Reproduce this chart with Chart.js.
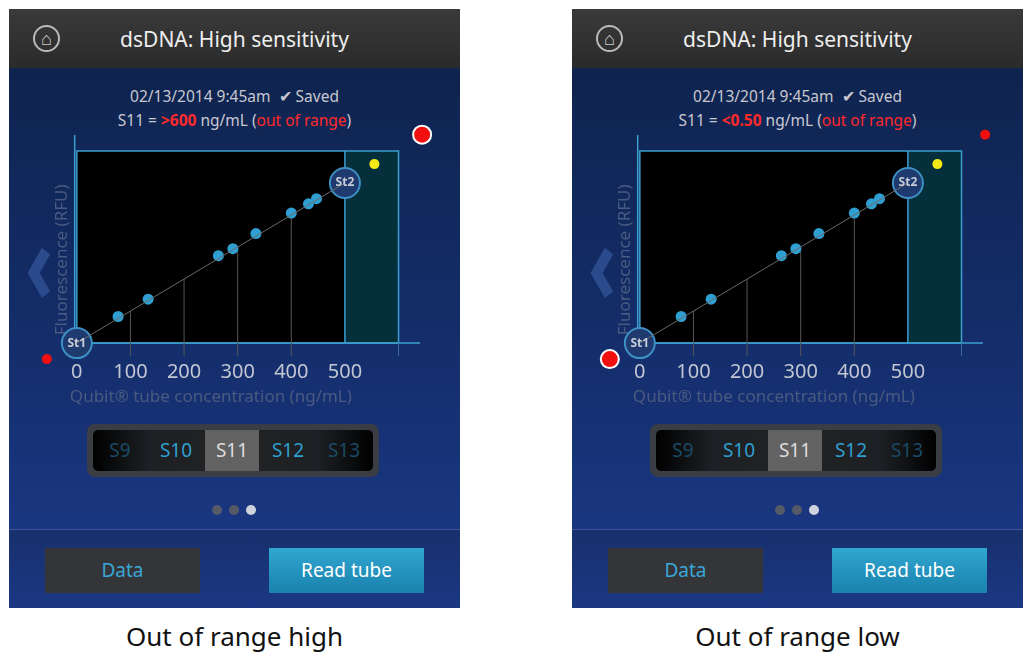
<!DOCTYPE html>
<html><head><meta charset="utf-8">
<script src="https://cdn.jsdelivr.net/npm/chart.js@4"></script>
<style>
body{margin:0;width:1034px;height:667px;background:#fff;position:relative;overflow:hidden;font-family:"Noto Sans","Open Sans",sans-serif}
.panel{position:absolute;top:9px;width:451px;height:599px;background:linear-gradient(#0d2148 0%,#152f6e 60%,#1b3a8a 100%);overflow:hidden}
.hdr{position:absolute;left:0;top:0;width:100%;height:59px;background:linear-gradient(#3a3a3a,#2a2a2a);color:#eee;font-size:21px;text-align:center;line-height:60px}
.home{position:absolute;left:24px;top:16px;width:27px;height:27px;border-radius:50%;border:2px solid #bbb;box-sizing:border-box;line-height:22px;font-size:18px;color:#ccc;text-align:center}
.t{position:absolute;width:100%;text-align:center;color:#c8c8d0;font-size:15.5px}
.red{color:#ff2a2a}
canvas{position:absolute}
.sel{position:absolute;left:78px;top:415px;width:292px;height:53px;border-radius:8px;background:#3a3d44;}
.sel .in{position:absolute;left:6px;top:6px;right:6px;bottom:6px;border-radius:5px;overflow:hidden;background:linear-gradient(90deg,#000 0%,#1d2024 20%,#222 50%,#1d2024 80%,#000 100%);}
.cell{position:absolute;top:0;height:41px;width:54px;line-height:41px;text-align:center;font-size:19px;color:#2f9fd0}
.dot{position:absolute;top:496px;width:10px;height:10px;border-radius:50%;background:#555a66}
.sep{position:absolute;left:0;top:520px;width:100%;height:1px;background:#3d5699}
.foot{position:absolute;left:0;top:521px;width:100%;height:78px;background:linear-gradient(#17306d,#1c3784)}
.btn{position:absolute;top:539px;width:155px;height:45px;line-height:45px;text-align:center;font-size:19px}
.cap{position:absolute;top:618px;font-size:26px;color:#111;width:451px;text-align:center}
.arrow{position:absolute;left:10px;top:196px;color:#2a4a8c;font-size:110px;line-height:110px;font-weight:bold;transform:scaleX(0.7)}
</style></head><body>
<script>
const panels=["left","right"];
const stdX=[0,500], stdY=[0,500];
const sampleX=[77,133,264,291,334,400,432,447];
const sampleY=[83,137,273,295,342,406,435,451];
const yellowPt=[555,559];
const bigRed={left:[644,651],right:[-56,-50]};
const smallRed={left:[-56,-50],right:[644,651]};
const xTicks=[0,100,200,300,400,500];
const results={left:">600",right:"<0.50"};
const captions={left:"Out of range high",right:"Out of range low"};
const tubes=["S9","S10","S11","S12","S13"];

panels.forEach((p,i)=>{
  const off=i?572:9;
  const d=document.createElement('div');d.className='panel';d.style.left=off+'px';
  d.innerHTML=`<div class="hdr">dsDNA: High sensitivity<div class="home">⌂</div></div>
  <div class="t" style="top:76px">02/13/2014 9:45am &nbsp;✔ Saved</div>
  <div class="t" style="top:100px">S11 = <b class="red">${results[p]}</b> ng/mL (<span class="red">out of range</span>)</div>
  <div class="arrow">&lsaquo;</div>
  <div class="sel"><div class="in">${tubes.map((s,k)=>`<div class="cell" style="left:${k*56}px;${k==2?'background:#626262;color:#ddd;':''}${k==0||k==4?'color:#1a4a66;':''}">${s}</div>`).join('')}</div></div>
  <div class="dot" style="left:203px"></div><div class="dot" style="left:220px"></div><div class="dot" style="left:237px;background:#cfd3dc"></div>
  <div class="foot"></div><div class="sep"></div>
  <div class="btn" style="left:36px;background:#343538;color:#3aa6d6">Data</div>
  <div class="btn" style="left:260px;background:linear-gradient(#2fa6d0,#1a82ad);color:#fff">Read tube</div>`;
  document.body.appendChild(d);
  const cap=document.createElement('div');cap.className='cap';cap.style.left=off+'px';cap.textContent=captions[p];document.body.appendChild(cap);
  const c=document.createElement('canvas');c.width=430;c.height=300;
  c.style.left=(off+11)+'px';c.style.top='110px';c.style.width='430px';c.style.height='300px';
  document.body.appendChild(c);
  const deco={id:'deco'+i,
    beforeDatasetsDraw(ch){
      const x=ch.scales.x,y=ch.scales.y,g=ch.ctx;
      const X=v=>x.getPixelForValue(v),Y=v=>y.getPixelForValue(v);
      g.save();
      g.fillStyle='#000';g.fillRect(X(0),Y(600),X(500)-X(0),Y(0)-Y(600));
      g.fillStyle='#062f3c';g.fillRect(X(500),Y(600),X(600)-X(500),Y(0)-Y(600));
      g.strokeStyle='#3b9fd0';g.lineWidth=1.5;
      g.strokeRect(X(0),Y(600),X(600)-X(0),Y(0)-Y(600));
      g.beginPath();g.moveTo(X(500),Y(0));g.lineTo(X(500),Y(600));g.stroke();
      g.beginPath();g.moveTo(X(-4),Y(650));g.lineTo(X(-4),Y(0));g.lineTo(X(640),Y(0));g.stroke();
      g.strokeStyle='#555';g.lineWidth=1;
      [100,200,300,400].forEach(v=>{g.beginPath();g.moveTo(X(v),Y(-40));g.lineTo(X(v),Y(v));g.stroke();});
      g.strokeStyle='#3b6f9a';g.beginPath();g.moveTo(X(600),Y(-40));g.lineTo(X(600),Y(0));g.stroke();
      g.fillStyle='#c2c6d2';g.font='20px "Noto Sans"';g.textAlign='center';g.textBaseline='middle';
      xTicks.forEach(v=>g.fillText(v,X(v),Y(-90)));
      g.fillStyle='#4a5a80';g.font='17px "Noto Sans"';
      g.fillText('Qubit\u00ae tube concentration (ng/mL)',X(250),Y(-168));
      g.save();g.translate(X(-27),Y(260));g.rotate(-Math.PI/2);g.fillText('Fluorescence (RFU)',0,0);g.restore();
      g.restore();
    },
    afterDatasetsDraw(ch){
      const x=ch.scales.x,y=ch.scales.y,g=ch.ctx;
      g.save();g.fillStyle='#c8ccd6';g.font='bold 12px "Noto Sans"';g.textAlign='center';g.textBaseline='middle';
      stdX.forEach((v,k)=>g.fillText('St'+(k+1),x.getPixelForValue(v),y.getPixelForValue(stdY[k])));
      g.restore();
    }};
  new Chart(c,{type:'scatter',data:{datasets:[
    {type:'line',data:[{x:stdX[0],y:stdY[0]},{x:stdX[1],y:stdY[1]}],borderColor:'#6a6a6a',borderWidth:1,pointRadius:0},
    {data:sampleX.map((v,k)=>({x:v,y:sampleY[k]})),backgroundColor:'#2f9fd2',pointRadius:5.5,borderWidth:0},
    {data:[{x:yellowPt[0],y:yellowPt[1]}],backgroundColor:'#f4e817',pointRadius:5,borderWidth:0},
    {data:[{x:bigRed[p][0],y:bigRed[p][1]}],backgroundColor:'#f01010',borderColor:'#fff',borderWidth:2,pointRadius:9},
    {data:[{x:smallRed[p][0],y:smallRed[p][1]}],backgroundColor:'#f01010',pointRadius:5,borderWidth:0},
    {data:stdX.map((v,k)=>({x:v,y:stdY[k]})),backgroundColor:'#1e3a6e',borderColor:'#3d8fc4',borderWidth:2,pointRadius:15}
  ]},plugins:[deco],options:{responsive:false,animation:false,devicePixelRatio:1,
    layout:{padding:0,autoPadding:false},plugins:{legend:{display:false},tooltip:{enabled:false}},
    scales:{x:{type:'linear',display:false,min:-106,max:696},y:{type:'linear',display:false,min:-209,max:728}}}});
});
</script>
</body></html>
